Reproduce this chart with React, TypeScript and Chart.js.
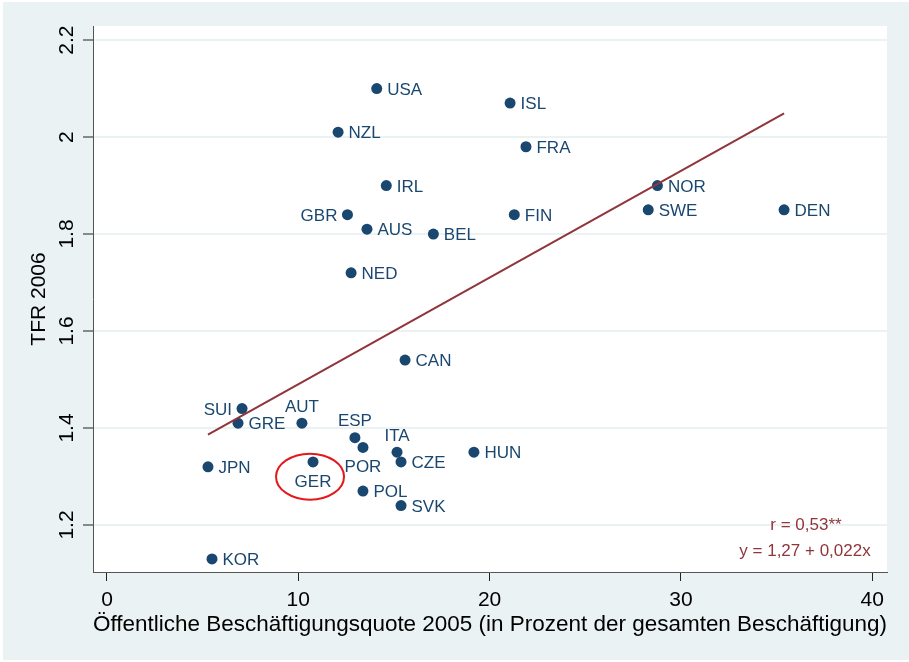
import React, { useEffect, useRef } from "react";
import { Chart, registerables } from "chart.js";

Chart.register(...registerables);

// ---- data ----
const countries = ["USA", "ISL", "NZL", "FRA", "IRL", "NOR", "GBR", "FIN", "SWE", "DEN", "AUS", "BEL", "NED", "CAN", "SUI", "GRE", "AUT", "ESP", "POR", "ITA", "CZE", "HUN", "JPN", "GER", "POL", "SVK", "KOR"];
const publicEmploymentShare2005 = [14.1, 21.07, 12.08, 21.9, 14.6, 28.77, 12.57, 21.29, 28.29, 35.39, 13.59, 17.06, 12.76, 15.58, 7.06, 6.85, 10.19, 12.96, 13.38, 15.16, 15.37, 19.18, 5.28, 10.77, 13.38, 15.37, 5.49];
const tfr2006 = [2.1, 2.07, 2.01, 1.98, 1.9, 1.9, 1.84, 1.84, 1.85, 1.85, 1.81, 1.8, 1.72, 1.54, 1.44, 1.41, 1.41, 1.38, 1.36, 1.35, 1.33, 1.35, 1.32, 1.33, 1.27, 1.24, 1.13];

const xTickValues = [0, 10, 20, 30, 40];
const xTickLabels = ["0", "10", "20", "30", "40"];
const yTickValues = [1.2, 1.4, 1.6, 1.8, 2, 2.2];
const yTickLabels = ["1.2", "1.4", "1.6", "1.8", "2", "2.2"];

const fitIntercept = 1.27;
const fitSlope = 0.022;
const statLines = ["r = 0,53**", "y = 1,27 + 0,022x"];
const highlightedCountry = "GER";

const xTitle = "Öffentliche Beschäftigungsquote 2005 (in Prozent der gesamten Beschäftigung)";
const yTitle = "TFR 2006";

// ---- styles ----
const FONT = "'Liberation Sans', Arial, sans-serif";
const NAVY = "#1a476f";
const MAROON = "#90353b";
const BG = "#eaf2f3";
const labelPlacement: Record<string, string> = {
  SUI: "left",
  GBR: "left",
  AUT: "top",
  ESP: "top",
  ITA: "top",
  POR: "bottom",
  GER: "bottom",
};

const decorPlugin = {
  id: "decor",
  beforeDraw(chart: any) {
    const { ctx, chartArea: a, width, height } = chart;
    ctx.save();
    ctx.fillStyle = "#ffffff";
    ctx.fillRect(0, 0, width, height);
    ctx.fillStyle = BG;
    ctx.fillRect(3, 2, width - 3, height - 4);
    ctx.fillStyle = "#ffffff";
    ctx.fillRect(a.left, a.top, a.right - a.left, a.bottom - a.top);
    ctx.restore();
  },
  afterDatasetsDraw(chart: any) {
    const { ctx, chartArea: a } = chart;
    const meta = chart.getDatasetMeta(1);
    ctx.save();
    ctx.font = `17px ${FONT}`;
    ctx.fillStyle = NAVY;
    meta.data.forEach((pt: any, i: number) => {
      const name = countries[i];
      const place = labelPlacement[name] || "right";
      const px = pt.x;
      const py = pt.y;
      ctx.textBaseline = "middle";
      if (place === "right") {
        ctx.textAlign = "left";
        ctx.fillText(name, px + 10.5, py + 1.5);
      } else if (place === "left") {
        ctx.textAlign = "right";
        ctx.fillText(name, px - 10, py + 1.5);
      } else if (place === "top") {
        ctx.textAlign = "center";
        ctx.fillText(name, px, py - 16);
      } else {
        ctx.textAlign = "center";
        ctx.fillText(name, px, py + 20);
      }
      if (name === highlightedCountry) {
        ctx.save();
        ctx.strokeStyle = "#e3191c";
        ctx.lineWidth = 2;
        ctx.beginPath();
        ctx.ellipse(px - 3, py + 14.7, 34, 23, 0, 0, Math.PI * 2);
        ctx.stroke();
        ctx.restore();
      }
    });
    ctx.fillStyle = MAROON;
    ctx.font = `17px ${FONT}`;
    ctx.textAlign = "center";
    ctx.textBaseline = "middle";
    ctx.fillText(statLines[0], a.right - 81, a.bottom - 47);
    ctx.fillText(statLines[1], a.right - 82, a.bottom - 21);
    ctx.restore();
  },
};

export default function App() {
  const canvasRef = useRef<HTMLCanvasElement | null>(null);

  useEffect(() => {
    const canvas = canvasRef.current;
    if (!canvas) return;
    const points = countries.map((_, i) => ({ x: publicEmploymentShare2005[i], y: tfr2006[i] }));
    const xMin = Math.min(...publicEmploymentShare2005);
    const xMax = Math.max(...publicEmploymentShare2005);
    const fitLine = [
      { x: xMin, y: fitIntercept + fitSlope * xMin },
      { x: xMax, y: fitIntercept + fitSlope * xMax },
    ];

    const chart = new Chart(canvas, {
      type: "scatter",
      data: {
        datasets: [
          {
            label: "Fit",
            data: fitLine,
            showLine: true,
            borderColor: MAROON,
            borderWidth: 2,
            pointRadius: 0,
            fill: false,
          },
          {
            label: "TFR 2006",
            data: points,
            backgroundColor: NAVY,
            borderColor: NAVY,
            borderWidth: 0,
            pointRadius: 5.5,
            pointHoverRadius: 5.5,
          },
        ],
      },
      options: {
        responsive: false,
        animation: false,
        devicePixelRatio: 1,
        layout: { padding: { top: 26, right: 22, bottom: 0, left: 0 } },
        plugins: {
          legend: { display: false },
          tooltip: { enabled: false },
        },
        events: [],
        scales: {
          x: {
            type: "linear",
            position: "bottom",
            min: -0.73,
            max: 40.77,
            afterBuildTicks: (s: any) => {
              s.ticks = xTickValues.map((v) => ({ value: v }));
            },
            afterFit: (s: any) => {
              s.height = 90;
            },
            ticks: {
              autoSkip: false,
              maxRotation: 0,
              minRotation: 0,
              padding: 7,
              color: "#000",
              font: { family: FONT, size: 21 },
              callback: (_v: any, i: number) => xTickLabels[i],
            },
            grid: {
              drawOnChartArea: false,
              drawTicks: true,
              tickLength: 9,
              tickColor: "#222",
              tickWidth: 1,
            },
            border: { display: true, color: "#555", width: 1 },
            title: {
              display: true,
              text: xTitle,
              color: "#000",
              font: { family: FONT, size: 22.5 },
              padding: { top: 0, bottom: 24 },
            },
          },
          y: {
            type: "linear",
            min: 1.103,
            max: 2.229,
            afterBuildTicks: (s: any) => {
              s.ticks = yTickValues.map((v) => ({ value: v }));
            },
            afterFit: (s: any) => {
              s.width = 93;
            },
            ticks: {
              autoSkip: false,
              minRotation: 90,
              maxRotation: 90,
              crossAlign: "center",
              padding: 1,
              color: "#000",
              font: { family: FONT, size: 21 },
              callback: (_v: any, i: number) => yTickLabels[i],
            },
            grid: {
              color: BG,
              lineWidth: 2,
              drawTicks: true,
              tickLength: 10,
              tickColor: "#222",
              tickWidth: 1,
            },
            border: { display: true, color: "#555", width: 1 },
            title: {
              display: true,
              text: yTitle,
              color: "#000",
              font: { family: FONT, size: 21 },
              padding: { top: 27, bottom: 0 },
            },
          },
        },
      },
      plugins: [decorPlugin],
    } as any);

    return () => chart.destroy();
  }, []);

  return (
    <div style={{ position: "absolute", left: 0, top: 0, width: 909, height: 662 }}>
      <canvas ref={canvasRef} width={909} height={662} style={{ display: "block" }} />
    </div>
  );
}
